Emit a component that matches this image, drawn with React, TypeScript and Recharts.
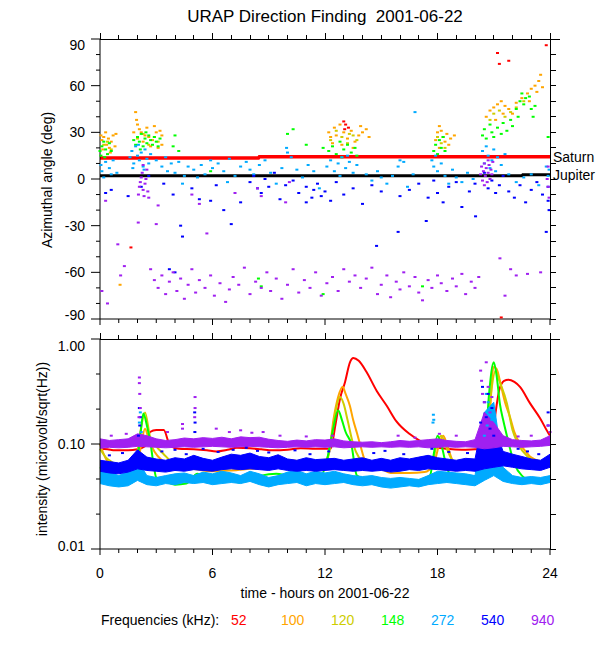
import React from "react";
import { ComposedChart, Scatter, Line, Area, XAxis, YAxis } from "recharts";

const FONT = '"Liberation Sans", Arial, Helvetica, sans-serif';

// ---------- labels / ticks ----------
const chartTitle = "URAP Direction Finding  2001-06-22";
const topYTitle = "Azimuthal angle (deg)";
const bottomYTitle = "intensity (microvolt/sqrt(Hz))";
const xTitle = "time - hours on 2001-06-22";
const legendTitle = "Frequencies (kHz):";
const freqLabels = ["52", "100", "120", "148", "272", "540", "940"];
const freqColors = ["#ff0000", "#ffa500", "#cdcd00", "#00ff00", "#00aaff", "#0000ff", "#a020f0"];

const hourTicks = [0, 1, 2, 3, 4, 5, 6, 7, 8, 9, 10, 11, 12, 13, 14, 15, 16, 17, 18, 19, 20, 21, 22, 23, 24];
const hourLabels = [0, 6, 12, 18, 24];
const azTicks = [-90, -80, -70, -60, -50, -40, -30, -20, -10, 0, 10, 20, 30, 40, 50, 60, 70, 80, 90];
const azLabels = [-90, -60, -30, 0, 30, 60, 90];
const intTicks = [0.01, 0.0215, 0.0464, 0.1, 0.215, 0.464, 1];
const intLabelValues = [0.01, 0.1, 1];
const intLabelTexts = ["0.01", "0.10", "1.00"];

// ---------- top panel: azimuth (hour, deg) ----------
const az52 = [[1.65, -44], [13.0, 37], [13.1, 35], [13.25, 33], [13.05, 32], [21.2, 81], [21.3, 74], [21.8, 76], [23.8, 86], [21.4, -89]];
const az100 = [
  [0.05, 28], [0.1, 25], [0.2, 27], [0.3, 30], [0.35, 22], [0.45, 26], [0.5, 20], [0.6, 24], [0.7, 28], [0.8, 21], [0.15, 19], [0.85, 29], [0.55, 17],
  [1.9, 43], [1.95, 38], [2.0, 35], [2.1, 32], [2.2, 30], [2.4, 28], [2.6, 27], [2.8, 25], [3.0, 30], [3.2, 31], [3.3, 28], [2.9, 34], [2.5, 33], [2.3, 24], [2.7, 21], [3.1, 20], [1.8, 30], [3.3, 22], [1.07, -68],
  [12.2, 30], [12.3, 27], [12.5, 33], [12.6, 28], [12.8, 35], [13.0, 30], [13.2, 26], [13.4, 31], [13.6, 24], [13.8, 28], [14.0, 30], [14.2, 32], [14.35, 27], [12.9, 22], [13.5, 20], [12.4, 23], [13.9, 34],
  [17.9, 25], [18.0, 30], [18.1, 34], [18.2, 31], [18.3, 27], [18.4, 24], [18.5, 29], [18.7, 26], [18.9, 28], [18.1, 20], [18.6, 22],
  [20.6, 40], [20.8, 44], [21.0, 46], [21.2, 48], [21.4, 50], [21.6, 47], [21.8, 45], [22.0, 42], [22.2, 49], [22.5, 52], [22.8, 55], [23.0, 58], [23.2, 60], [23.4, 63], [23.5, 67], [23.6, 59], [23.3, 56], [22.9, 50], [21.5, 42], [21.1, 38],
];
const az120 = [
  [0.2, 22], [0.4, 24], [0.6, 19], [2.0, 26], [2.3, 29], [2.6, 22], [2.9, 27], [3.1, 24],
  [12.3, 25], [12.6, 31], [12.9, 27], [13.2, 23], [13.5, 28], [13.7, 25], [13.3, 29],
  [18.0, 27], [18.2, 23], [18.4, 20],
  [20.8, 38], [21.0, 42], [21.3, 44], [21.6, 40], [21.9, 43], [22.2, 46], [22.6, 50],
];
const az148 = [
  [0.0, 18], [0.05, 15], [0.1, 21], [0.2, 24], [0.3, 19], [0.4, 16], [0.5, 23], [0.6, 18], [0.25, 14],
  [1.8, 25], [1.9, 22], [2.0, 27], [2.1, 24], [2.2, 29], [2.3, 21], [2.4, 26], [2.5, 23], [2.6, 28], [2.7, 25], [2.8, 22], [2.9, 27], [3.0, 24], [3.1, 21], [3.2, 26], [2.15, 19], [2.45, 30],
  [3.9, 21], [4.0, 28], [4.2, 18], [5.9, 5], [8.6, -69], [8.45, -64],
  [10.0, 29], [10.3, 32], [11.0, 22], [11.9, 20],
  [12.2, 18], [12.4, 21], [12.6, 16], [12.8, 24], [13.0, 19], [13.2, 22], [13.4, 17], [13.6, 20], [12.9, 14], [13.7, 15],
  [17.8, 18], [17.9, 22], [18.0, 16], [18.1, 25], [18.2, 20], [18.3, 27], [18.4, 18], [17.2, -69], [11.9, -74],
  [20.4, 28], [20.5, 32], [20.6, 26], [20.8, 35], [20.9, 30], [21.0, 27], [21.2, 33], [21.4, 29], [21.5, 36], [21.7, 31], [21.9, 38], [22.0, 34], [22.2, 45], [22.4, 50], [22.5, 55], [22.6, 48], [22.7, 52], [22.9, 53], [23.0, 45], [23.1, 40], [23.2, 47], [23.9, 27], [22.3, 40],
];
const az272 = [
  [0.05, 9], [0.1, 5], [0.3, 11], [0.5, 7], [0.7, 12], [0.9, 4], [0.2, 1], [0.6, 3],
  [1.6, 14], [1.7, 18], [1.8, 10], [1.9, 21], [2.0, 15], [2.1, 12], [2.2, 17], [2.3, 8], [2.4, 19], [2.5, 13], [2.6, 10], [2.7, 16], [2.05, 22], [2.35, 6], [1.75, 7],
  [3.0, 12], [3.3, 8], [3.5, 14], [3.6, 5], [3.8, 10], [4.0, 4], [4.2, 11], [4.5, 2], [4.7, 8], [5.0, 6], [5.2, 1], [5.4, 9], [5.6, 3], [5.9, 12], [6.0, 7], [6.3, 10],
  [6.6, 5], [6.9, 13], [7.2, 2], [7.5, 8], [7.8, 11], [8.0, 6], [8.2, 3], [8.5, 9], [8.8, 12], [9.1, 4], [9.4, -3], [9.7, 7], [9.95, 20], [10.0, 17], [10.2, 14],
  [10.5, 6], [10.8, 1], [11.1, 9], [11.4, 5], [11.7, -6], [4.4, -3], [6.8, -2],
  [12.1, 8], [12.3, 12], [12.5, 5], [12.7, 10], [12.9, 14], [13.1, 7], [13.3, 11], [13.5, 4], [13.7, 9], [12.8, 2], [13.2, 15],
  [14.2, 3], [14.5, -1], [14.8, 5], [15.0, 1], [15.3, -3], [15.6, 2], [15.9, 8], [16.2, 11], [16.4, -5], [16.7, 3], [16.0, 12], [16.8, 43],
  [17.7, 12], [17.8, 8], [17.9, 15], [18.0, 5], [18.2, 10], [18.4, 2], [18.6, -3], [18.8, 6], [19.0, 1], [19.3, -2], [19.6, 4], [19.9, 0],
  [20.4, 18], [20.5, 10], [20.6, 21], [20.7, 15], [20.8, 7], [20.9, 12], [21.0, 19], [21.1, 5], [21.2, 14], [21.4, 9], [21.6, 16], [21.8, 3],
  [22.2, -2], [22.6, 1], [23.0, 3], [23.4, -4], [23.8, 8], [23.95, 6], [23.9, 2],
];
const az540 = [
  [0.3, -9], [0.6, -7], [1.5, -11], [2.2, -5], [2.6, 2], [3.4, -3], [3.9, -10], [4.3, -30], [4.9, -6], [5.3, -13], [5.9, -14], [6.2, -4], [6.6, -20], [7.0, -29],
  [7.5, -15], [8.0, -2], [8.2, 2], [8.4, -6], [8.6, -9], [8.8, 0], [9.0, -5], [9.3, 4], [9.6, -13], [9.9, -4], [10.3, -1], [10.6, -9], [11.0, -15], [11.4, -7], [11.8, -11],
  [3.7, -58], [4.4, -37], [4.0, -60],
  [11.0, -5], [11.3, -12], [11.6, -3], [12.0, -8], [12.3, -14], [12.6, -2], [13.0, -10], [13.5, -6], [14.0, -16], [14.5, -4], [15.0, -8], [15.9, -34], [14.75, -43],
  [17.4, -27], [16.0, -11], [16.5, -7], [17.0, -3], [17.5, -12], [17.8, -1], [18.0, -9], [18.3, -15], [18.6, -5], [19.0, -2], [19.3, -18], [19.7, -8], [20.0, -3],
  [20.03, -24], [20.5, 4], [20.7, -6], [20.9, -1], [21.1, -9], [21.3, -4], [21.5, 2], [21.8, -8], [22.1, -12], [22.4, -4], [22.7, -15], [23.0, -7], [23.3, -2],
  [23.6, -10], [23.9, -5], [23.95, -20], [23.9, -14], [23.8, -34],
];
const az940 = [
  [2.05, -10], [2.1, -5], [2.15, -2], [2.2, 1], [2.25, 4], [2.3, -7], [2.35, -11], [2.4, -3], [2.45, 0], [2.5, 6], [2.55, -8], [2.6, -12], [2.3, 9],
  [0.3, -14], [3.1, -17], [4.9, -10], [5.3, -16], [7.2, -9], [8.4, -6], [8.6, -11], [9.9, -15], [10.1, -2], [2.04, -28], [3.0, -29], [5.7, -35],
  [0.1, -72], [0.4, -80], [0.95, -42], [1.1, -62], [1.3, -56], [2.7, -58], [2.9, -65], [3.1, -70], [3.3, -62], [3.5, -74], [3.7, -66], [3.9, -60], [4.1, -72], [4.3, -64],
  [4.5, -77], [4.7, -68], [4.9, -58], [5.1, -73], [5.3, -65], [5.6, -70], [5.9, -62], [6.1, -75], [6.4, -67], [6.7, -79], [6.9, -71], [7.1, -63], [7.4, -68], [7.7, -57],
  [8.0, -74], [8.3, -66], [8.6, -70], [8.9, -60], [9.1, -72], [9.4, -64], [9.7, -77], [10.0, -68], [10.3, -58], [10.6, -73], [10.9, -65], [11.2, -70], [11.5, -60],
  [11.8, -75], [12.1, -67], [12.4, -63], [12.7, -72], [13.0, -58], [13.3, -66], [13.6, -62], [13.9, -70], [14.2, -64], [14.5, -57], [14.8, -74], [15.0, -68],
  [15.3, -62], [15.5, -76], [15.8, -66], [16.0, -71], [16.2, -60], [16.5, -69], [16.8, -63], [17.0, -73], [17.2, -78], [17.5, -65], [17.7, -70], [18.0, -62],
  [18.2, -67], [18.5, -72], [18.8, -64], [19.0, -69], [19.3, -61], [19.5, -74], [19.8, -66], [20.0, -70], [20.2, -63],
  [20.3, 3], [20.35, 8], [20.4, -1], [20.45, 5], [20.5, 10], [20.55, 2], [20.6, 7], [20.65, -2], [20.7, 4], [20.75, 9], [20.8, 0], [20.85, 6], [20.9, 3], [20.95, 11], [20.5, -4], [20.7, 12],
  [23.9, -5], [23.95, -12], [23.85, 0], [23.9, 8], [21.33, -51], [21.9, -58], [22.2, -62], [22.8, -61], [23.5, -60], [21.6, -75],
];
const saturnPath = [[0, 13.5], [8.45, 13.5], [8.5, 14.3], [24, 14.3]];
const jupiterPath = [[0, 2.1], [22.5, 2.1], [22.55, 2.8], [24, 2.8]];

// ---------- bottom panel: intensity ----------
const curve52 = [[0, 0.09], [0.4, 0.089], [0.8, 0.087], [1.5, 0.087], [2.0, 0.089], [2.4, 0.095], [2.67, 0.13], [3.0, 0.136], [3.4, 0.136], [3.73, 0.097], [4.2, 0.09], [5, 0.089], [5.7, 0.087], [6.2, 0.085], [6.8, 0.088], [7.3, 0.092], [8, 0.091], [8.6, 0.089], [9.2, 0.087], [10, 0.088], [10.7, 0.091], [11.5, 0.09], [12.3, 0.09], [12.55, 0.15], [12.8, 0.27], [13.07, 0.39], [13.33, 0.6], [13.51, 0.66], [13.8, 0.62], [14.2, 0.49], [14.76, 0.32], [15.3, 0.23], [15.8, 0.165], [16.5, 0.125], [17.16, 0.105], [17.8, 0.094], [18.5, 0.09], [19.3, 0.088], [20, 0.089], [20.6, 0.09], [20.9, 0.1], [21.1, 0.2], [21.3, 0.33], [21.55, 0.4], [21.78, 0.41], [22.1, 0.39], [22.4, 0.35], [22.93, 0.245], [23.47, 0.176], [23.9, 0.128], [24, 0.12]];
const curve100 = [[0, 0.1], [0.2, 0.08], [0.4, 0.068], [0.8, 0.06], [1.4, 0.06], [2.0, 0.065], [2.2, 0.1], [2.4, 0.14], [2.6, 0.11], [2.9, 0.085], [3.3, 0.07], [3.8, 0.063], [4.3, 0.062], [5, 0.058], [6, 0.055], [7, 0.056], [8, 0.058], [9, 0.06], [9.7, 0.07], [10.2, 0.07], [11, 0.065], [11.8, 0.062], [12.2, 0.08], [12.45, 0.17], [12.7, 0.28], [12.94, 0.35], [13.1, 0.3], [13.33, 0.23], [13.5, 0.17], [13.7, 0.128], [13.9, 0.095], [14.13, 0.07], [14.5, 0.062], [15, 0.058], [15.5, 0.053], [16.5, 0.053], [17.3, 0.054], [17.8, 0.065], [18.1, 0.1], [18.3, 0.12], [18.5, 0.1], [18.8, 0.07], [19.3, 0.06], [20, 0.058], [20.6, 0.067], [20.8, 0.2], [20.98, 0.54], [21.15, 0.52], [21.4, 0.35], [21.6, 0.25], [21.87, 0.18], [22.1, 0.13], [22.4, 0.1], [22.7, 0.085], [22.93, 0.076], [23.3, 0.07], [23.7, 0.065], [24, 0.062]];
const curve120 = [[0, 0.09], [0.3, 0.075], [0.6, 0.068], [1.0, 0.062], [1.5, 0.06], [1.9, 0.07], [2.15, 0.13], [2.4, 0.2], [2.67, 0.117], [3.0, 0.095], [3.4, 0.08], [3.8, 0.068], [4.3, 0.061], [5, 0.058], [6, 0.057], [7, 0.059], [8, 0.06], [9, 0.062], [9.5, 0.07], [10, 0.068], [11, 0.064], [12, 0.063], [12.3, 0.1], [12.55, 0.2], [12.8, 0.28], [13.0, 0.24], [13.2, 0.17], [13.5, 0.1], [13.8, 0.075], [14.1, 0.068], [15, 0.062], [16, 0.06], [17, 0.058], [17.7, 0.062], [17.9, 0.09], [18.2, 0.12], [18.5, 0.09], [18.8, 0.07], [19.5, 0.062], [20.3, 0.06], [20.6, 0.1], [20.85, 0.3], [21.1, 0.5], [21.3, 0.4], [21.7, 0.245], [22.0, 0.136], [22.3, 0.1], [22.8, 0.076], [23.3, 0.068], [24, 0.065]];
const curve148 = [[0, 0.06], [0.3, 0.055], [0.6, 0.05], [1.0, 0.045], [1.4, 0.042], [1.7, 0.043], [1.95, 0.06], [2.15, 0.12], [2.31, 0.195], [2.5, 0.15], [2.7, 0.1], [2.85, 0.065], [3.0, 0.048], [3.5, 0.044], [4.0, 0.041], [4.6, 0.042], [5.2, 0.052], [5.6, 0.048], [6.2, 0.046], [7, 0.045], [7.4, 0.043], [8, 0.046], [8.6, 0.05], [9.4, 0.052], [10, 0.05], [11, 0.048], [11.8, 0.05], [12.1, 0.07], [12.4, 0.13], [12.7, 0.21], [12.9, 0.17], [13.1, 0.13], [13.4, 0.1], [13.7, 0.05], [14.2, 0.046], [15, 0.045], [16, 0.046], [17, 0.045], [17.6, 0.05], [17.8, 0.08], [18.0, 0.12], [18.2, 0.1], [18.4, 0.07], [18.7, 0.05], [19.5, 0.046], [20.2, 0.047], [20.5, 0.07], [20.75, 0.3], [21.0, 0.6], [21.15, 0.45], [21.33, 0.24], [21.5, 0.17], [21.7, 0.12], [22.1, 0.065], [22.5, 0.05], [23, 0.045], [23.5, 0.045], [24, 0.047]];

const bandHours = [0, 0.5, 1, 1.5, 2, 2.5, 3, 3.5, 4, 4.5, 5, 5.5, 6, 6.5, 7, 7.5, 8, 8.5, 9, 9.5, 10, 10.5, 11, 11.5, 12, 12.5, 13, 13.5, 14, 14.5, 15, 15.5, 16, 16.5, 17, 17.5, 18, 18.5, 19, 19.5, 20, 20.5, 21, 21.5, 22, 22.5, 23, 23.5, 24];
const band940Lo = [0.091, 0.093, 0.092, 0.093, 0.095, 0.094, 0.093, 0.092, 0.093, 0.094, 0.093, 0.094, 0.095, 0.094, 0.093, 0.094, 0.095, 0.094, 0.093, 0.092, 0.093, 0.094, 0.093, 0.094, 0.093, 0.094, 0.092, 0.093, 0.094, 0.093, 0.094, 0.093, 0.094, 0.093, 0.094, 0.092, 0.093, 0.094, 0.093, 0.094, 0.093, 0.09, 0.092, 0.095, 0.094, 0.093, 0.094, 0.095, 0.097];
const band940Hi = [0.112, 0.108, 0.11, 0.112, 0.125, 0.12, 0.112, 0.108, 0.11, 0.114, 0.112, 0.115, 0.113, 0.116, 0.112, 0.117, 0.115, 0.116, 0.111, 0.108, 0.106, 0.109, 0.107, 0.11, 0.109, 0.112, 0.107, 0.105, 0.104, 0.105, 0.103, 0.105, 0.108, 0.106, 0.108, 0.11, 0.112, 0.108, 0.106, 0.105, 0.11, 0.2, 0.16, 0.12, 0.11, 0.108, 0.107, 0.109, 0.12];
const band540Lo = [0.055, 0.053, 0.052, 0.054, 0.058, 0.056, 0.055, 0.054, 0.056, 0.055, 0.057, 0.056, 0.055, 0.057, 0.058, 0.057, 0.058, 0.057, 0.056, 0.058, 0.056, 0.055, 0.056, 0.055, 0.056, 0.057, 0.056, 0.055, 0.056, 0.055, 0.056, 0.054, 0.055, 0.057, 0.056, 0.058, 0.057, 0.056, 0.055, 0.056, 0.055, 0.058, 0.06, 0.062, 0.06, 0.058, 0.057, 0.056, 0.06];
const band540Hi = [0.07, 0.068, 0.066, 0.07, 0.088, 0.075, 0.072, 0.07, 0.074, 0.072, 0.078, 0.073, 0.07, 0.075, 0.08, 0.078, 0.082, 0.076, 0.074, 0.079, 0.072, 0.07, 0.074, 0.071, 0.072, 0.073, 0.07, 0.072, 0.074, 0.07, 0.073, 0.07, 0.074, 0.072, 0.075, 0.078, 0.074, 0.072, 0.07, 0.073, 0.072, 0.2, 0.15, 0.085, 0.08, 0.076, 0.072, 0.07, 0.08];
const band272Lo = [0.042, 0.04, 0.039, 0.04, 0.045, 0.041, 0.04, 0.042, 0.041, 0.043, 0.042, 0.043, 0.041, 0.042, 0.043, 0.042, 0.044, 0.041, 0.039, 0.041, 0.042, 0.043, 0.04, 0.042, 0.041, 0.042, 0.043, 0.041, 0.04, 0.041, 0.039, 0.038, 0.039, 0.04, 0.039, 0.041, 0.042, 0.043, 0.042, 0.041, 0.04, 0.045, 0.05, 0.044, 0.042, 0.041, 0.042, 0.041, 0.043];
const band272Hi = [0.056, 0.054, 0.05, 0.055, 0.07, 0.05, 0.048, 0.05, 0.052, 0.053, 0.05, 0.054, 0.052, 0.055, 0.053, 0.05, 0.055, 0.052, 0.048, 0.05, 0.054, 0.056, 0.052, 0.055, 0.053, 0.055, 0.052, 0.05, 0.049, 0.05, 0.048, 0.047, 0.048, 0.047, 0.046, 0.05, 0.055, 0.054, 0.053, 0.052, 0.05, 0.2, 0.25, 0.06, 0.05, 0.048, 0.049, 0.048, 0.05];

const spikes940 = [[2.1, 0.43], [2.1, 0.38], [2.12, 0.3], [2.15, 0.22], [2.08, 0.18], [5.07, 0.28], [5.07, 0.22], [5.05, 0.18], [4.4, 0.155], [4.4, 0.14], [6.2, 0.14], [7.5, 0.135], [8.7, 0.13], [20.3, 0.5], [20.35, 0.4], [20.4, 0.3], [20.5, 0.25], [20.6, 0.6], [20.7, 0.35], [20.8, 0.2], [20.9, 0.28], [20.4, 0.15], [20.6, 0.17], [21.0, 0.14], [21.1, 0.13], [23.9, 0.15], [24.0, 0.13], [19.0, 0.12], [0.6, 0.12], [1.4, 0.125], [3.6, 0.13], [6.9, 0.13], [8.1, 0.128], [9.6, 0.12], [11.0, 0.118], [12.4, 0.12], [15.9, 0.12], [16.8, 0.115], [18.1, 0.125], [22.3, 0.118], [23.0, 0.12]];
const spikes540 = [[2.1, 0.22], [2.15, 0.18], [2.12, 0.15], [2.05, 0.12], [5.05, 0.2], [5.07, 0.16], [5.06, 0.13], [20.4, 0.35], [20.5, 0.25], [20.6, 0.18], [20.7, 0.3], [20.8, 0.14], [20.9, 0.22], [21.0, 0.12], [20.3, 0.16], [23.9, 0.2], [23.9, 0.15], [0.5, 0.078], [1.2, 0.082], [3.3, 0.085], [4.0, 0.088], [4.6, 0.08], [5.5, 0.09], [6.3, 0.084], [7.1, 0.088], [7.8, 0.092], [8.4, 0.086], [9.0, 0.083], [10.4, 0.087], [11.2, 0.08], [12.2, 0.085], [14.6, 0.082], [15.2, 0.086], [16.2, 0.08], [17.7, 0.09], [18.6, 0.084], [19.6, 0.082], [22.3, 0.09], [22.8, 0.085], [23.4, 0.08]];
const spikes272 = [[2.15, 0.2], [2.1, 0.16], [2.2, 0.13], [17.78, 0.19], [17.8, 0.17], [17.76, 0.16], [20.6, 0.3], [20.7, 0.25], [20.8, 0.2], [20.65, 0.15], [20.5, 0.12], [20.9, 0.17]];

// ---------- panel geometry (plot boxes) ----------
const PLOT_L = 100;
const PLOT_R = 550;
const TOP_T = 39;
const TOP_B = 319;
const BOT_T = 339;
const BOT_B = 549;
const CHART_W = 600;
const TOP_H = 340;
const BOT_Y0 = 330;
const BOT_H = 320;

// ---------- tables built from the arrays ----------
const toXY = (arr: number[][]) => arr.map(([x, y]) => ({ x, y }));
const azSeries = [az52, az100, az120, az148, az272, az540, az940];
const curveSeries = [curve52, curve100, curve120, curve148];
const bandRows = bandHours.map((x, i) => ({
  x,
  b272: [band272Lo[i], band272Hi[i]],
  b540: [band540Lo[i], band540Hi[i]],
  b940: [band940Lo[i], band940Hi[i]],
}));
const bandKeys = [
  { key: "b272", color: freqColors[4] },
  { key: "b540", color: freqColors[5] },
  { key: "b940", color: freqColors[6] },
];
const spikeSeries = [
  { data: spikes272, color: freqColors[4] },
  { data: spikes540, color: freqColors[5] },
  { data: spikes940, color: freqColors[6] },
];

// ---------- tick renderers (tickSize 0 => x / y is the axis line itself) ----------
const txt = { fontFamily: FONT, fontSize: 14, fill: "#000" } as const;

const makeXTick = (withLabels: boolean) => (p: any) => {
  const v = p.payload.value;
  const major = hourLabels.includes(v);
  const len = major ? 6 : 4;
  return (
    <g>
      <line x1={p.x} y1={p.y} x2={p.x} y2={p.y + len} stroke="#000" />
      {withLabels && major ? (
        <text x={p.x} y={p.y + 29} textAnchor="middle" {...txt}>{v}</text>
      ) : null}
    </g>
  );
};

const makeYTick = (kind: "az" | "int") => (p: any) => {
  const v = p.payload.value;
  let label: string | null = null;
  let adj = 0;
  let major = false;
  if (kind === "az") {
    major = azLabels.includes(v);
    if (major) label = String(v);
    if (v === 90) adj = 6;
    if (v === -90) adj = -4;
  } else {
    const idx = intLabelValues.indexOf(v);
    major = idx >= 0;
    if (major) label = intLabelTexts[idx];
    if (v === 1) adj = 7;
    if (v === 0.01) adj = -3;
  }
  const len = major ? 9 : 4;
  return (
    <g>
      <line x1={p.x} y1={p.y} x2={p.x - len} y2={p.y} stroke="#000" />
      {label !== null ? (
        <text x={p.x - 15} y={p.y + 5 + adj} textAnchor="end" {...txt}>{label}</text>
      ) : null}
    </g>
  );
};

const rectShape = (color: string) => (p: any) =>
  p.cx == null ? null : <rect x={p.cx - 1.5} y={p.cy - 1} width={3} height={2} fill={color} />;

const axisLine = { stroke: "#000", strokeWidth: 1 };

const endLabel = (text: string, last: number) => (p: any) =>
  p.index === last ? (
    <text x={p.x + 3} y={p.y + 5} textAnchor="start" {...txt}>{text}</text>
  ) : null;

// ---------- box edges (top and right) of each panel, from the tick lists ----------
const hourPos = (h: number) => PLOT_L + ((h - hourTicks[0]) / (hourTicks[hourTicks.length - 1] - hourTicks[0])) * (PLOT_R - PLOT_L);
const azPos = (v: number) => TOP_T + ((azTicks[azTicks.length - 1] - v) / (azTicks[azTicks.length - 1] - azTicks[0])) * (TOP_B - TOP_T);
const intPos = (v: number) =>
  BOT_T + ((Math.log10(intTicks[intTicks.length - 1]) - Math.log10(v)) / (Math.log10(intTicks[intTicks.length - 1]) - Math.log10(intTicks[0]))) * (BOT_B - BOT_T);

function EdgeDivs({ top, bottom, yTicks, pos }: { top: number; bottom: number; yTicks: number[]; pos: (v: number) => number }) {
  const blk = "#000";
  return (
    <>
      <div style={{ position: "absolute", left: PLOT_L, top: top - 0.5, width: PLOT_R - PLOT_L + 10, height: 1, background: blk }} />
      <div style={{ position: "absolute", left: PLOT_R - 0.5, top: top - 6, width: 1, height: bottom - top + 6, background: blk }} />
      {hourTicks.map((h) => {
        const len = hourLabels.includes(h) ? 6 : 4;
        return <div key={"t" + h} style={{ position: "absolute", left: hourPos(h) - 0.5, top: top - len, width: 1, height: len, background: blk }} />;
      })}
      {yTicks.map((v) => (
        <div key={"r" + v} style={{ position: "absolute", left: PLOT_R, top: pos(v) - 0.5, width: 6, height: 1, background: blk }} />
      ))}
    </>
  );
}

export default function App() {
  const logProps = { type: "number" as const, scale: "log" as const, domain: [0.01, 1], ticks: intTicks, interval: 0 };
  const xProps = { xAxisId: "b", dataKey: "x", type: "number" as const, domain: [0, 24], ticks: hourTicks, interval: 0 };
  const noTick = { tickSize: 0, tickMargin: 0, tickLine: false, axisLine };
  const abs = (top: number) => ({ position: "absolute" as const, left: 0, top });
  const YW = 60;
  const XH_TOP = 10;
  const XH_BOT = 30;
  return (
    <div style={{ position: "absolute", left: 0, top: 0, width: 600, height: 650, background: "#fff" }}>
      {/* ===== top panel ===== */}
      <div style={abs(0)}>
        <ComposedChart width={CHART_W} height={TOP_H}
          margin={{ top: TOP_T, right: CHART_W - PLOT_R, bottom: TOP_H - TOP_B - XH_TOP, left: PLOT_L - YW }}>
          <XAxis {...xProps} height={XH_TOP} {...noTick} tick={makeXTick(false)} />
          <YAxis yAxisId="l" dataKey="y" type="number" domain={[-90, 90]} ticks={azTicks} interval={0}
            width={YW} {...noTick} tick={makeYTick("az")} />
          {azSeries.map((s, i) => (
            <Scatter key={"az" + i} xAxisId="b" yAxisId="l" data={toXY(s)} fill={freqColors[i]}
              shape={rectShape(freqColors[i])} isAnimationActive={false} />
          ))}
          <Line xAxisId="b" yAxisId="l" data={toXY(saturnPath)} dataKey="y" type="linear" stroke="#ff0000" strokeWidth={3.5}
            dot={false} isAnimationActive={false} label={endLabel("Saturn", saturnPath.length - 1)} />
          <Line xAxisId="b" yAxisId="l" data={toXY(jupiterPath)} dataKey="y" type="linear" stroke="#000" strokeWidth={3}
            dot={false} isAnimationActive={false} label={endLabel("Jupiter", jupiterPath.length - 1)} />
        </ComposedChart>
      </div>

      {/* ===== bottom panel ===== layer 1: the four curves (drawn underneath the noisy bands) */}
      <div style={abs(BOT_Y0)}>
        <ComposedChart width={CHART_W} height={BOT_H}
          margin={{ top: BOT_T - BOT_Y0, right: CHART_W - PLOT_R, bottom: BOT_Y0 + BOT_H - BOT_B, left: PLOT_L }}>
          <XAxis xAxisId="b" dataKey="x" type="number" domain={[0, 24]} hide />
          <YAxis yAxisId="l" dataKey="y" {...logProps} hide />
          {curveSeries.map((c, i) => (
            <Line key={"c" + i} xAxisId="b" yAxisId="l" data={toXY(c)} dataKey="y" type="monotone"
              stroke={freqColors[i]} strokeWidth={2} dot={false} isAnimationActive={false} />
          ))}
        </ComposedChart>
      </div>
      {/* layer 2: bands, scattered points and axes */}
      <div style={abs(BOT_Y0)}>
        <ComposedChart width={CHART_W} height={BOT_H} data={bandRows}
          margin={{ top: BOT_T - BOT_Y0, right: CHART_W - PLOT_R, bottom: BOT_Y0 + BOT_H - BOT_B - XH_BOT, left: PLOT_L - YW }}>
          <XAxis {...xProps} height={XH_BOT} {...noTick} tick={makeXTick(true)} />
          <YAxis yAxisId="l" dataKey="y" {...logProps} width={YW} {...noTick} tick={makeYTick("int")} />
          {bandKeys.map((b) => (
            <Area key={b.key} xAxisId="b" yAxisId="l" dataKey={b.key} type="linear" stroke={b.color} strokeWidth={1}
              fill={b.color} fillOpacity={1} isAnimationActive={false} />
          ))}
          {spikeSeries.map((s, i) => (
            <Scatter key={"sp" + i} xAxisId="b" yAxisId="l" data={toXY(s.data)} fill={s.color}
              shape={rectShape(s.color)} isAnimationActive={false} />
          ))}
        </ComposedChart>
      </div>

      <svg width={600} height={650} style={{ position: "absolute", left: 0, top: 0, pointerEvents: "none" }}>
        <text x={325} y={22} textAnchor="middle" style={{ whiteSpace: "pre" }} fontFamily={FONT} fontSize={17} fill="#000">
          {chartTitle}
        </text>
        <text transform="translate(52,180) rotate(-90)" textAnchor="middle" {...txt}>{topYTitle}</text>
        <text transform="translate(47,449) rotate(-90)" textAnchor="middle" {...txt}>{bottomYTitle}</text>
        <text x={325} y={598} textAnchor="middle" {...txt}>{xTitle}</text>
        <text x={101} y={625} {...txt}>{legendTitle}</text>
        {freqLabels.map((f, i) => (
          <text key={f} x={231 + 50 * i} y={625} fontFamily={FONT} fontSize={14} fill={freqColors[i]}>{f}</text>
        ))}
      </svg>
      <EdgeDivs top={TOP_T} bottom={TOP_B} yTicks={azTicks} pos={azPos} />
      <EdgeDivs top={BOT_T} bottom={BOT_B} yTicks={intTicks} pos={intPos} />
    </div>
  );
}
